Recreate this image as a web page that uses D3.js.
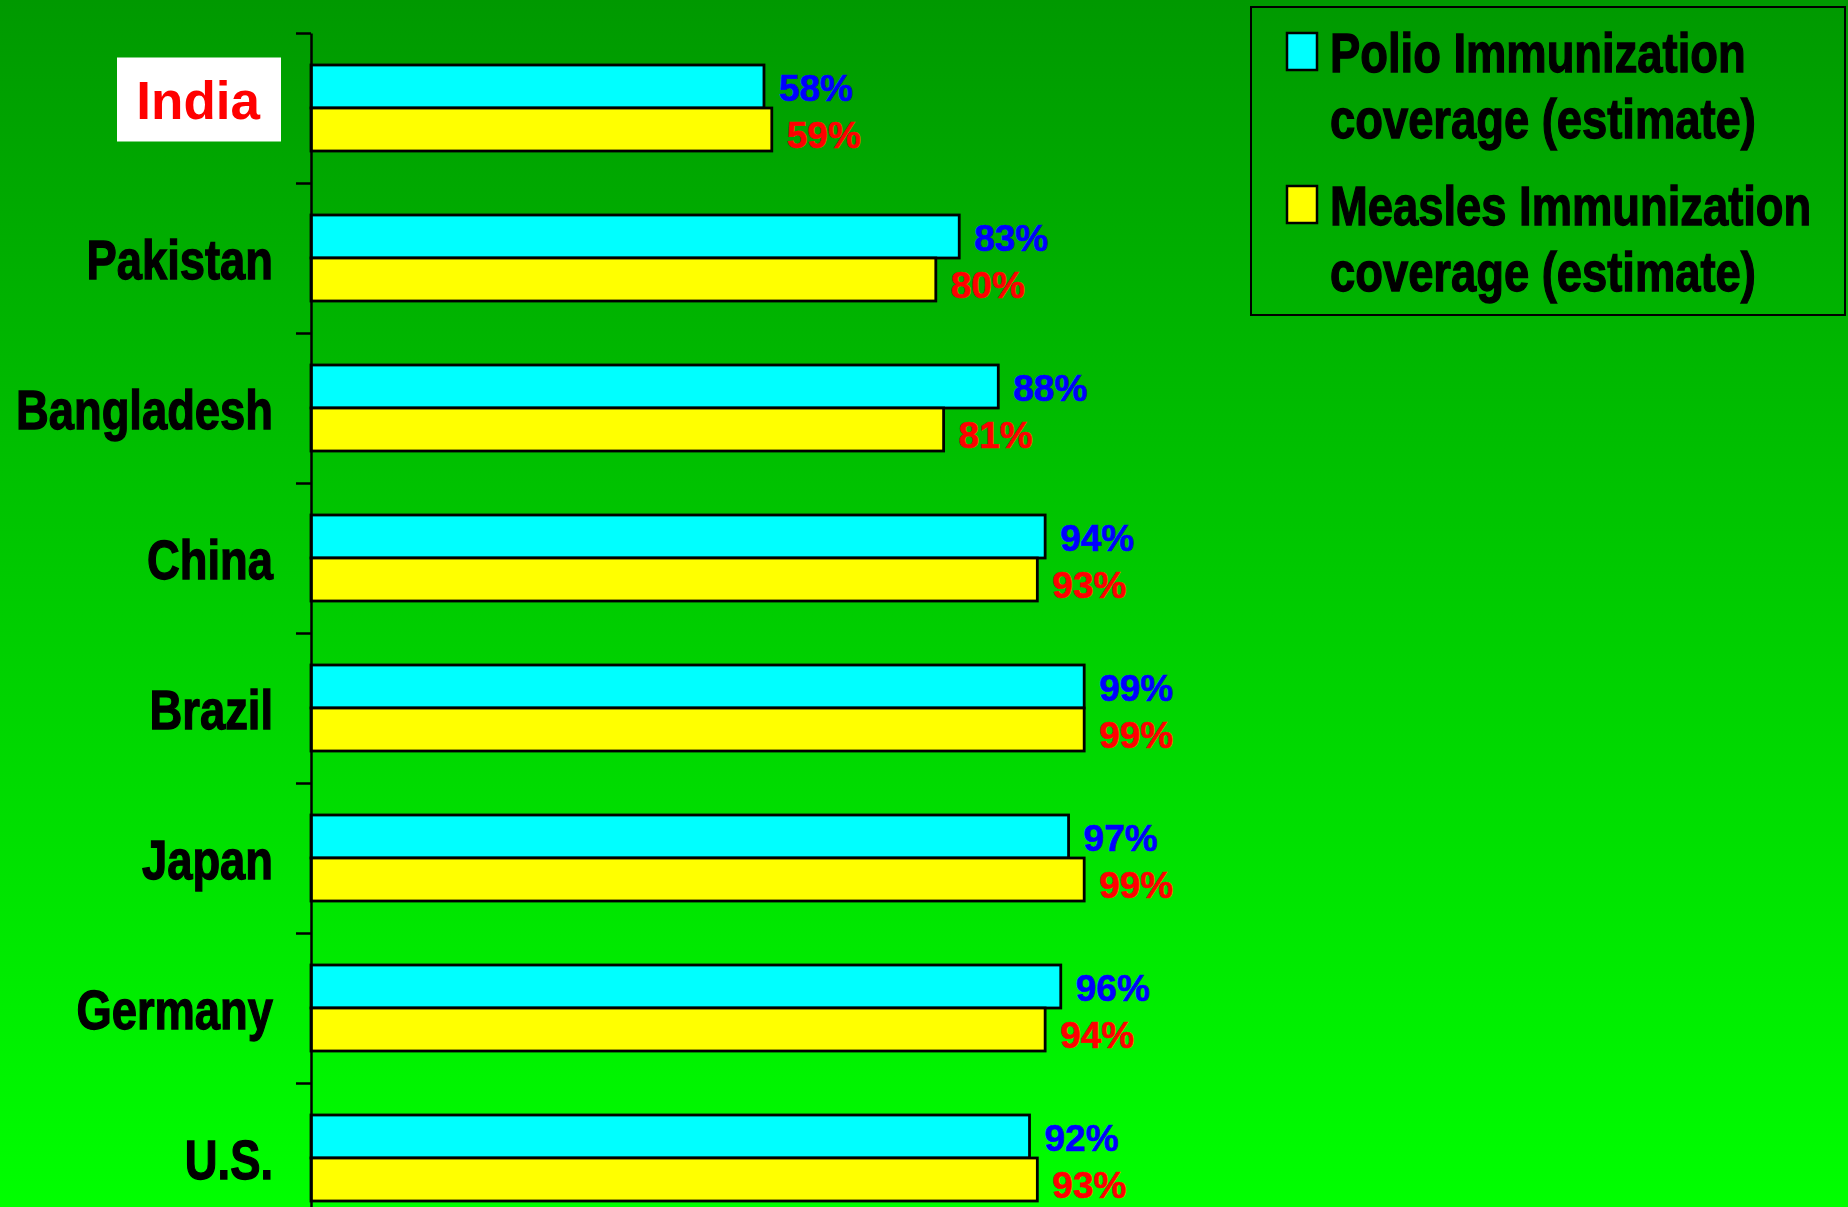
<!DOCTYPE html>
<html>
<head>
<meta charset="utf-8">
<script src="https://cdn.jsdelivr.net/npm/d3@7"></script>
<style>
  html, body { margin: 0; padding: 0; overflow: hidden; }
  svg { display: block; }
</style>
</head>
<body>
<svg id="chart" width="1848" height="1207"></svg>
<script>
// Immunization coverage by country
const countries = ["India", "Pakistan", "Bangladesh", "China", "Brazil", "Japan", "Germany", "U.S."];
const polio     = [58, 83, 88, 94, 99, 97, 96, 92];
const measles   = [59, 80, 81, 93, 99, 99, 94, 93];
const seriesKeys = ["polio", "measles"];
const seriesNames = [
  ["Polio Immunization", "coverage (estimate)"],
  ["Measles Immunization", "coverage (estimate)"]
];

const W = 1848, H = 1207;
const font = "'Liberation Sans', Arial, sans-serif";
const squeeze = 0.81; // horizontal compression for the condensed bold captions
const fills = { polio: "#00ffff", measles: "#ffff00" };
const labelFills = { polio: "#0000ff", measles: "#ff0000" };

const svg = d3.select("#chart");

// green backdrop, darker at the top
const defs = svg.append("defs");
const grad = defs.append("linearGradient")
  .attr("id", "bg").attr("x1", 0).attr("y1", 0).attr("x2", 0).attr("y2", 1);
grad.append("stop").attr("offset", "0%").attr("stop-color", "rgb(0,153,0)");
grad.append("stop").attr("offset", "100%").attr("stop-color", "rgb(0,255,0)");
svg.append("rect").attr("width", W).attr("height", H).attr("fill", "url(#bg)");

// scales
const x = d3.scaleLinear().domain([0, 100]).range([311, 1092]);
const y = d3.scaleBand().domain(countries).range([33, 33 + 150 * countries.length]).padding(0);
const ySub = d3.scaleBand().domain(seriesKeys).range([0, y.bandwidth()])
  .paddingInner(0).paddingOuter(0.744);

const rows = countries.map((c, i) => ({ country: c, polio: polio[i], measles: measles[i] }));

// bars
const groups = svg.append("g").selectAll("g")
  .data(rows).join("g")
  .attr("transform", d => `translate(0,${y(d.country)})`);

groups.selectAll("rect")
  .data(d => seriesKeys.map(k => ({ key: k, value: d[k] })))
  .join("rect")
  .attr("x", x(0))
  .attr("y", d => ySub(d.key))
  .attr("width", d => x(d.value) - x(0))
  .attr("height", ySub.bandwidth())
  .attr("fill", d => fills[d.key])
  .attr("stroke", "#000")
  .attr("stroke-width", 2.8);

// value labels
groups.selectAll("text.val")
  .data(d => seriesKeys.map(k => ({ key: k, value: d[k] })))
  .join("text")
  .attr("class", "val")
  .attr("x", d => x(d.value) + 15)
  .attr("y", d => ySub(d.key) + ySub.bandwidth() / 2 + (d.key === "polio" ? 15 : 18))
  .attr("font-family", font)
  .attr("font-weight", "bold")
  .attr("font-size", 37)
  .attr("fill", d => labelFills[d.key])
  .attr("stroke", d => labelFills[d.key])
  .attr("stroke-width", 0.6)
  .text(d => d.value + "%");

// axis with ticks on the category boundaries
const yEdge = d3.scaleLinear().domain([0, countries.length]).range(y.range());
const axis = svg.append("g")
  .attr("transform", `translate(${x(0)},0)`)
  .call(d3.axisLeft(yEdge).tickValues(d3.range(countries.length + 1))
    .tickSize(15).tickSizeOuter(0).tickFormat(""));
axis.selectAll("path, line").attr("stroke", "#000").attr("stroke-width", 2.5);

// category labels
svg.append("g").selectAll("text")
  .data(countries.slice(1)).join("text")
  .attr("transform", d => `translate(273,${y(d) + y.bandwidth() / 2 + 21}) scale(${squeeze},1)`)
  .attr("text-anchor", "end")
  .attr("font-family", font)
  .attr("font-weight", "bold")
  .attr("font-size", 56)
  .attr("fill", "#000")
  .attr("stroke", "#000")
  .attr("stroke-width", 1.3)
  .text(d => d);

// highlighted first category in a white box
const hl = svg.append("g");
const hlBox = hl.append("rect").attr("fill", "#fff");
const hlText = hl.append("text")
  .attr("x", 260)
  .attr("y", y(countries[0]) + y.bandwidth() / 2 + 10.5)
  .attr("text-anchor", "end")
  .attr("font-family", font)
  .attr("font-weight", "bold")
  .attr("font-size", 53)
  .attr("fill", "#ff0000")
  .text(countries[0]);
const base = +hlText.attr("y");
hlBox.attr("x", 117).attr("width", 164)
  .attr("y", base - 61).attr("height", 84);

// legend
const legend = svg.append("g");
legend.append("rect")
  .attr("x", 1251).attr("y", 7).attr("width", 594).attr("height", 308)
  .attr("fill", "none").attr("stroke", "#000").attr("stroke-width", 2);
const legendRows = legend.selectAll("g.item")
  .data(seriesKeys).join("g")
  .attr("class", "item")
  .attr("transform", (d, i) => `translate(0,${i * 153})`);
legendRows.append("rect")
  .attr("x", 1287).attr("y", 33).attr("width", 30).attr("height", 37)
  .attr("fill", d => fills[d]).attr("stroke", "#000").attr("stroke-width", 2.5);
legendRows.each(function (d, i) {
  const t = d3.select(this).append("text")
    .attr("transform", `translate(1330,0) scale(${squeeze},1)`)
    .attr("font-family", font)
    .attr("font-weight", "bold")
    .attr("font-size", 56)
    .attr("fill", "#000")
    .attr("stroke", "#000")
    .attr("stroke-width", 1.3);
  seriesNames[i].forEach((line, j) => {
    t.append("tspan").attr("x", 0).attr("y", 72 + j * 66).text(line);
  });
});
</script>
</body>
</html>
